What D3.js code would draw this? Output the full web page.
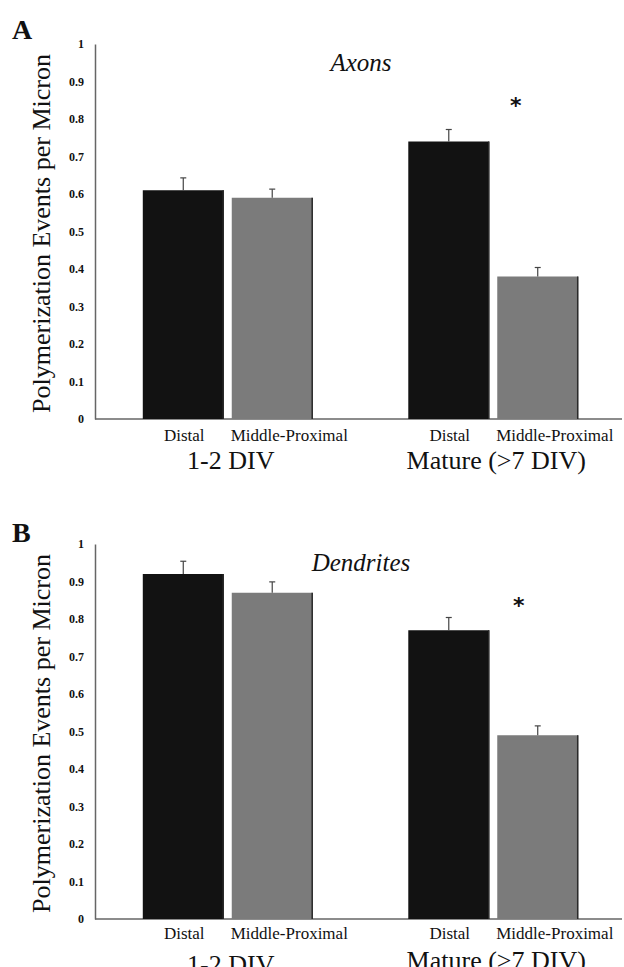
<!DOCTYPE html>
<html>
<head>
<meta charset="utf-8">
<script src="https://cdn.jsdelivr.net/npm/d3@7"></script>
<style>
  body { margin: 0; background: #fff; }
  text { font-family: "Liberation Serif", "Times New Roman", serif; fill: #111; }
</style>
</head>
<body>
<div id="chart"></div>
<script>
// chart values
var categories = ["Distal", "Middle-Proximal"];
var groups = ["1-2 DIV", "Mature (>7 DIV)"];
var panelNames = ["A", "B"];
var panelTitles = ["Axons", "Dendrites"];
var axonsMean = [0.61, 0.59, 0.74, 0.38];
var axonsErr = [0.033, 0.023, 0.032, 0.024];
var dendritesMean = [0.92, 0.87, 0.77, 0.49];
var dendritesErr = [0.034, 0.029, 0.034, 0.025];
var yTicks = [0, 0.1, 0.2, 0.3, 0.4, 0.5, 0.6, 0.7, 0.8, 0.9, 1];
var yTitle = "Polymerization Events per Micron";

var w = 624;
var h = 967;
var colors = ["#121212", "#7b7b7b"];

var svg = d3.select("#chart")
  .append("svg")
  .attr("width", w)
  .attr("height", h);

var y = d3.scaleLinear().domain([0, 1]).range([419, 44]);

var x0 = d3.scaleBand()
  .domain(groups)
  .range([95, 626])
  .paddingInner(0.36)
  .paddingOuter(0.18);

var x1 = d3.scaleBand()
  .domain(categories)
  .range([0, x0.bandwidth()])
  .paddingInner(0.09);

function drawPanel(i, means, errs) {
  var g = svg.append("g")
    .attr("transform", "translate(0," + (i * 500) + ")");

  var data = [];
  groups.forEach(function(gr, gi) {
    categories.forEach(function(c, ci) {
      var k = gi * categories.length + ci;
      data.push({group: gr, cat: c, ci: ci, v: means[k], e: errs[k]});
    });
  });

  // panel letter
  g.append("text")
    .text(panelNames[i])
    .attr("x", 12)
    .attr("y", 39 + i * 3)
    .style("font-size", "28px")
    .style("font-weight", "bold");

  // y axis
  var yaxis = g.append("g")
    .attr("transform", "translate(95,0)")
    .call(d3.axisLeft(y).tickValues(yTicks).tickSize(0).tickSizeOuter(0)
      .tickPadding(11).tickFormat(d3.format("~g")));
  yaxis.attr("font-family", null);
  yaxis.select(".domain").attr("stroke", "#666").attr("stroke-width", 1.5);
  yaxis.selectAll("text")
    .style("font-size", "12px")
    .style("font-weight", "bold")
    .attr("fill", "#222");

  // x axis line
  g.append("line")
    .attr("x1", 95)
    .attr("x2", 622)
    .attr("y1", y(0))
    .attr("y2", y(0))
    .attr("stroke", "#666")
    .attr("stroke-width", 1.5);

  // y title
  g.append("text")
    .text(yTitle)
    .attr("transform", "translate(50," + ((y(0) + y(1)) / 2 + 2) + ") rotate(-90)")
    .attr("text-anchor", "middle")
    .style("font-size", "26px");

  // bars
  var bx = function(d) { return x0(d.group) + x1(d.cat); };

  g.selectAll("rect.bar")
    .data(data)
    .enter()
    .append("rect")
    .attr("class", "bar")
    .attr("x", bx)
    .attr("y", function(d) { return y(d.v); })
    .attr("width", x1.bandwidth())
    .attr("height", function(d) { return y(0) - y(d.v); })
    .attr("fill", function(d) { return colors[d.ci]; });

  // darker right edge
  g.selectAll("line.edge")
    .data(data)
    .enter()
    .append("line")
    .attr("class", "edge")
    .attr("x1", function(d) { return bx(d) + x1.bandwidth() - 0.5; })
    .attr("x2", function(d) { return bx(d) + x1.bandwidth() - 0.5; })
    .attr("y1", function(d) { return y(d.v); })
    .attr("y2", y(0))
    .attr("stroke", "#2a2a2a")
    .attr("stroke-width", 1.5);

  // error bars
  var cx = function(d) { return bx(d) + x1.bandwidth() / 2; };
  g.selectAll("line.err")
    .data(data)
    .enter()
    .append("line")
    .attr("class", "err")
    .attr("x1", cx)
    .attr("x2", cx)
    .attr("y1", function(d) { return y(d.v); })
    .attr("y2", function(d) { return y(d.v + d.e); })
    .attr("stroke", "#444")
    .attr("stroke-width", 1.2);

  g.selectAll("line.cap")
    .data(data)
    .enter()
    .append("line")
    .attr("class", "cap")
    .attr("x1", function(d) { return cx(d) - 3; })
    .attr("x2", function(d) { return cx(d) + 3; })
    .attr("y1", function(d) { return y(d.v + d.e); })
    .attr("y2", function(d) { return y(d.v + d.e); })
    .attr("stroke", "#444")
    .attr("stroke-width", 1.2);

  // category labels
  g.selectAll("text.cat")
    .data(data)
    .enter()
    .append("text")
    .attr("class", "cat")
    .text(function(d) { return d.cat; })
    .attr("x", function(d) { return d.ci === 0 ? cx(d) + 1 : bx(d) - 1; })
    .attr("y", 441 - i * 2)
    .attr("text-anchor", function(d) { return d.ci === 0 ? "middle" : "start"; })
    .style("font-size", "17px");

  // group labels
  g.selectAll("text.grp")
    .data(groups)
    .enter()
    .append("text")
    .attr("class", "grp")
    .text(function(d) { return d; })
    .attr("x", function(d) { return x0(d) + x0.bandwidth() / 2 + 3; })
    .attr("y", function(d, gi) { return i === 1 && gi === 0 ? 473 : 469; })
    .attr("text-anchor", "middle")
    .style("font-size", "26px");

  // panel title
  g.append("text")
    .text(panelTitles[i])
    .attr("x", 361)
    .attr("y", y(0.927))
    .attr("text-anchor", "middle")
    .style("font-size", "25px")
    .style("font-style", "italic");

  // significance star over mature middle-proximal
  var star = data[3];
  g.append("text")
    .text("*")
    .attr("x", cx(star) - 22 + i * 3)
    .attr("y", y(0.86) + 16)
    .attr("text-anchor", "middle")
    .style("font-family", "DejaVu Sans, sans-serif")
    .style("font-weight", "bold")
    .style("font-size", "22px");
}

drawPanel(0, axonsMean, axonsErr);
drawPanel(1, dendritesMean, dendritesErr);
</script>
</body>
</html>
